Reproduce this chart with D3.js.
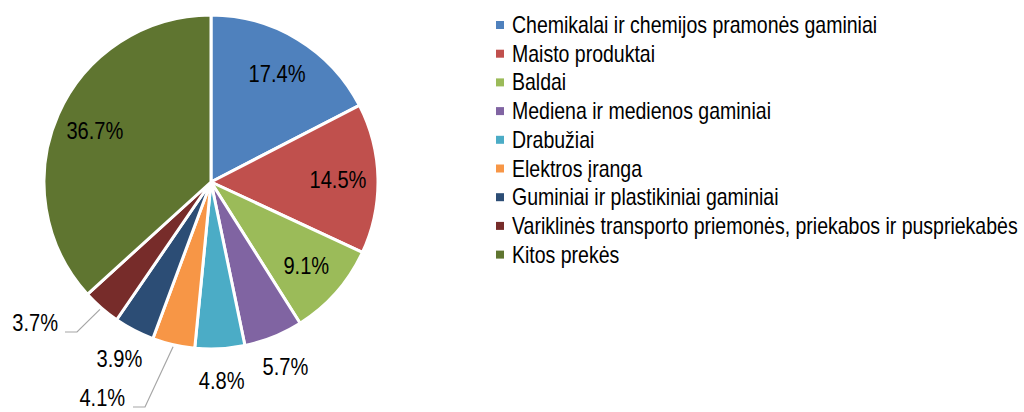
<!DOCTYPE html>
<html>
<head>
<meta charset="utf-8">
<script src="https://cdn.jsdelivr.net/npm/d3@7"></script>
<style>
  body { margin: 0; background: #fff; }
  text { font-family: "Liberation Sans", Arial, sans-serif; fill: #000; }
</style>
</head>
<body>
<script>
// categories and shares (%)
var categories = [
  "Chemikalai ir chemijos pramonės gaminiai",
  "Maisto produktai",
  "Baldai",
  "Mediena ir medienos gaminiai",
  "Drabužiai",
  "Elektros įranga",
  "Guminiai ir plastikiniai gaminiai",
  "Variklinės transporto priemonės, priekabos ir puspriekabės",
  "Kitos prekės"
];
var shares = [17.4, 14.5, 9.1, 5.7, 4.8, 4.1, 3.9, 3.7, 36.7];
var colors = ["#4F81BD", "#C0504D", "#9BBB59", "#8064A2", "#4BACC6",
              "#F79646", "#2C4D75", "#772C2A", "#5F7530"];

var data = categories.map(function(c, i) {
  return { name: c, value: shares[i], color: colors[i] };
});

var width = 1024, height = 412;
var cx = 211, cy = 182, radius = 167;
var innerLabelR = 127, outerLabelR = 199;

var svg = d3.select('body')
  .append('svg')
  .attr('width', width)
  .attr('height', height);

var pie = d3.pie()
  .sort(null)
  .value(function(d) { return d.value; });

var arc = d3.arc().innerRadius(0).outerRadius(radius);
var arcs = pie(data);

var g = svg.append('g')
  .attr('transform', 'translate(' + cx + ',' + cy + ')');

g.selectAll('path')
  .data(arcs)
  .enter()
  .append('path')
  .attr('d', arc)
  .attr('fill', function(d) { return d.data.color; })
  .attr('stroke', '#fff')
  .attr('stroke-width', 3)
  .attr('stroke-linejoin', 'round');

function midAngle(d) { return (d.startAngle + d.endAngle) / 2; }
function polar(r, a) { return [r * Math.sin(a), -r * Math.cos(a)]; }

// the original uses a condensed face: place text, then squeeze it horizontally
function placeText(parent, x, y, k) {
  return parent.append('text')
    .attr('transform', 'translate(' + x + ',' + y + ') scale(' + k + ',1)')
    .attr('dy', '0.35em');
}

// small slices that get a leader line, label moved by hand (px from default spot)
var moved = {
  "3.7": { dx: -45, dy: -10, elbow: [-134, 150] },
  "4.1": { dx: -64, dy: 22, elbow: [-66, 225] }
};

arcs.forEach(function(d) {
  var a = midAngle(d);
  var key = d3.format('.1f')(d.data.value);
  var inside = d.data.value > 8;
  var p = polar(inside ? innerLabelR : outerLabelR, a);
  var m = moved[key];
  if (m) {
    p = [p[0] + m.dx, p[1] + m.dy];
    var edge = polar(radius + 2, a);
    g.append('polyline')
      .attr('points', [edge, m.elbow, [m.elbow[0] - 12, m.elbow[1]]].map(function(q) { return q.join(','); }).join(' '))
      .attr('fill', 'none')
      .attr('stroke', '#A6A6A6')
      .attr('stroke-width', 1.2);
  }
  placeText(g, p[0], p[1], 0.82)
    .attr('text-anchor', 'middle')
    .attr('font-size', 24.5)
    .text(key + '%');
});

// legend
var legendX = 496, legendY = 25, rowH = 28.7;
var legend = svg.append('g')
  .attr('transform', 'translate(' + legendX + ',' + legendY + ')');

var rows = legend.selectAll('g')
  .data(data)
  .enter()
  .append('g')
  .attr('transform', function(d, i) { return 'translate(0,' + (i * rowH) + ')'; });

rows.append('rect')
  .attr('x', 0)
  .attr('y', -4)
  .attr('width', 8)
  .attr('height', 8)
  .attr('fill', function(d) { return d.color; });

rows.each(function(d) {
  placeText(d3.select(this), 16, 0, 0.848)
    .attr('font-size', 23)
    .text(d.name);
});
</script>
</body>
</html>
